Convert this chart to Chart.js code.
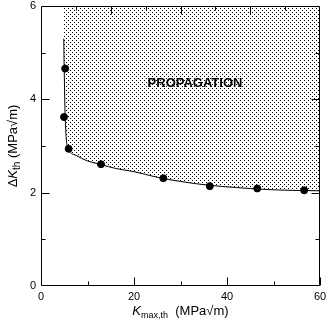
<!DOCTYPE html>
<html>
<head>
<meta charset="utf-8">
<script src="https://cdn.jsdelivr.net/npm/chart.js@4"></script>
<style>
  html, body { margin: 0; padding: 0; background: #fff; }
  #chartBox { width: 327px; height: 321px; }
</style>
</head>
<body>
<div id="chartBox"><canvas id="thresholdChart" width="327" height="321"></canvas></div>
<script>
// measured threshold points
let kmaxPoints = [5.2, 4.95, 5.95, 12.9, 26.3, 36.3, 46.5, 56.6];
let deltaKPoints = [4.66, 3.62, 2.94, 2.61, 2.31, 2.14, 2.09, 2.05];

// boundary curve
let curveKmax = [4.85, 4.9, 5.0, 5.15, 5.4, 6.0, 7.5, 10, 13, 16, 20, 25, 30, 36, 42, 48, 54, 60];
let curveDeltaK = [6.0, 5.3, 4.6, 3.8, 3.2, 2.92, 2.8, 2.68, 2.6, 2.52, 2.45, 2.33, 2.24, 2.16, 2.11, 2.07, 2.05, 2.04];

let xTicks = [0, 20, 40, 60];
let yTicks = [0, 2, 4, 6];
let regionLabel = "PROPAGATION";

let fontName = "'Liberation Sans', Arial, sans-serif";

// small dot pattern for the propagation region
let makeDotPattern = () => {
    let pc = document.createElement('canvas');
    pc.width = 4;
    pc.height = 4;
    let g = pc.getContext('2d');
    g.fillStyle = '#000';
    g.fillRect(0, 0, 1, 1);
    g.fillRect(2, 2, 1, 1);
    return document.getElementById('thresholdChart').getContext('2d').createPattern(pc, 'repeat');
};

let toXY = (xs, ys) => xs.map((x, i) => ({ x: x, y: ys[i] }));

// drop the label overhang padding so the layout padding decides the plot box
let noOverhang = (s) => {
    s.paddingTop = 0;
    s.paddingBottom = 0;
    s.paddingLeft = 0;
    s.paddingRight = 0;
};

// frame, inward ticks, axis titles and region label
let decorPlugin = {
    id: 'decor',
    afterDatasetsDraw: (chart) => {
        let ctx = chart.ctx;
        let a = chart.chartArea;
        let xs = chart.scales.x;
        let ys = chart.scales.y;
        let L = Math.round(a.left) + 0.5, R = Math.round(a.right) - 0.5;
        let T = Math.round(a.top) + 0.5, B = Math.round(a.bottom) - 0.5;
        ctx.save();
        ctx.strokeStyle = '#000';
        ctx.lineWidth = 1;
        ctx.beginPath();
        ctx.rect(L, T, R - L, B - T);
        // bottom ticks
        for (let v = 0; v <= 60; v += 10) {
            let px = Math.round(xs.getPixelForValue(v)) + 0.5;
            let len = v % 20 === 0 ? 8 : 4;
            ctx.moveTo(px, B);
            ctx.lineTo(px, B - len);
        }
        // top ticks (8 divisions)
        for (let i = 1; i < 8; i++) {
            let px = Math.round(L + (R - L) * i / 8) + 0.5;
            let len = i % 2 === 0 ? 8 : 4;
            ctx.moveTo(px, T);
            ctx.lineTo(px, T + len);
        }
        // left and right ticks
        for (let v = 1; v < 6; v++) {
            let py = Math.round(ys.getPixelForValue(v)) + 0.5;
            let len = v % 2 === 0 ? 8 : 4;
            ctx.moveTo(L, py);
            ctx.lineTo(L + len, py);
            ctx.moveTo(R, py);
            ctx.lineTo(R - len, py);
        }
        ctx.stroke();

        // region label
        ctx.fillStyle = '#000';
        ctx.font = 'bold 13px ' + fontName;
        ctx.textAlign = 'center';
        ctx.textBaseline = 'alphabetic';
        ctx.fillText(regionLabel, 195, 87);

        // x axis title: K_max,th (MPa√m)
        ctx.textAlign = 'left';
        let parts = [
            { t: 'K', f: 'italic 13px ' + fontName, dy: 0 },
            { t: 'max,th', f: '9px ' + fontName, dy: 3 },
            { t: '  (MPa\u221Am)', f: '13px ' + fontName, dy: 0 }
        ];
        let total = 0;
        parts.forEach(p => { ctx.font = p.f; p.w = ctx.measureText(p.t).width; total += p.w; });
        let cx = (a.left + a.right) / 2 - total / 2;
        parts.forEach(p => {
            ctx.font = p.f;
            ctx.fillText(p.t, cx, 314.5 + p.dy);
            cx += p.w;
        });

        // y axis title: ΔK_th (MPa√m)
        ctx.translate(16.5, (a.top + a.bottom) / 2);
        ctx.rotate(-Math.PI / 2);
        let yparts = [
            { t: '\u0394', f: '13px ' + fontName, dy: 0 },
            { t: 'K', f: 'italic 13px ' + fontName, dy: 0 },
            { t: 'th', f: '10px ' + fontName, dy: 3 },
            { t: ' (MPa\u221Am)', f: '13px ' + fontName, dy: 0 }
        ];
        total = 0;
        yparts.forEach(p => { ctx.font = p.f; p.w = ctx.measureText(p.t).width; total += p.w; });
        cx = -total / 2;
        yparts.forEach(p => {
            ctx.font = p.f;
            ctx.fillText(p.t, cx, p.dy);
            cx += p.w;
        });
        ctx.restore();
    }
};

let plotThresholdChart = () => {
    let context = document.getElementById('thresholdChart').getContext('2d');
    let config = {
        type: 'scatter',
        data: {
            datasets: [{
                label: 'boundary',
                type: 'line',
                data: toXY(curveKmax, curveDeltaK),
                borderColor: '#000',
                borderWidth: 1,
                pointRadius: 0,
                cubicInterpolationMode: 'monotone',
                fill: 'end',
                backgroundColor: makeDotPattern(),
                segment: {
                    // the top part is only the edge of the shading
                    borderColor: (c) => c.p0DataIndex === 0 ? 'rgba(0,0,0,0)' : '#000'
                },
                order: 2
            }, {
                label: 'threshold',
                data: toXY(kmaxPoints, deltaKPoints),
                backgroundColor: '#000',
                borderColor: '#000',
                pointRadius: 3.5,
                order: 1
            }]
        },
        options: {
            responsive: false,
            animation: false,
            devicePixelRatio: 1,
            layout: { padding: { top: 6, right: 7, left: 0, bottom: 0 } },
            plugins: {
                legend: { display: false },
                tooltip: { enabled: false },
                title: { display: false }
            },
            scales: {
                x: {
                    type: 'linear',
                    min: 0,
                    max: 60,
                    grid: { display: false, drawTicks: false },
                    border: { display: false },
                    afterBuildTicks: (s) => { s.ticks = xTicks.map(v => ({ value: v })); },
                    afterFit: (s) => { s.height = 35; noOverhang(s); },
                    ticks: {
                        color: '#000',
                        padding: 4,
                        maxRotation: 0,
                        font: { family: fontName, size: 11 }
                    }
                },
                y: {
                    type: 'linear',
                    min: 0,
                    max: 6,
                    grid: { display: false, drawTicks: false },
                    border: { display: false },
                    afterBuildTicks: (s) => { s.ticks = yTicks.map(v => ({ value: v })); },
                    afterFit: (s) => { s.width = 41; noOverhang(s); },
                    ticks: {
                        color: '#000',
                        padding: 5,
                        font: { family: fontName, size: 11 }
                    }
                }
            }
        },
        plugins: [decorPlugin]
    };
    window.thresholdChart = new Chart(context, config);
};

plotThresholdChart();
</script>
</body>
</html>
